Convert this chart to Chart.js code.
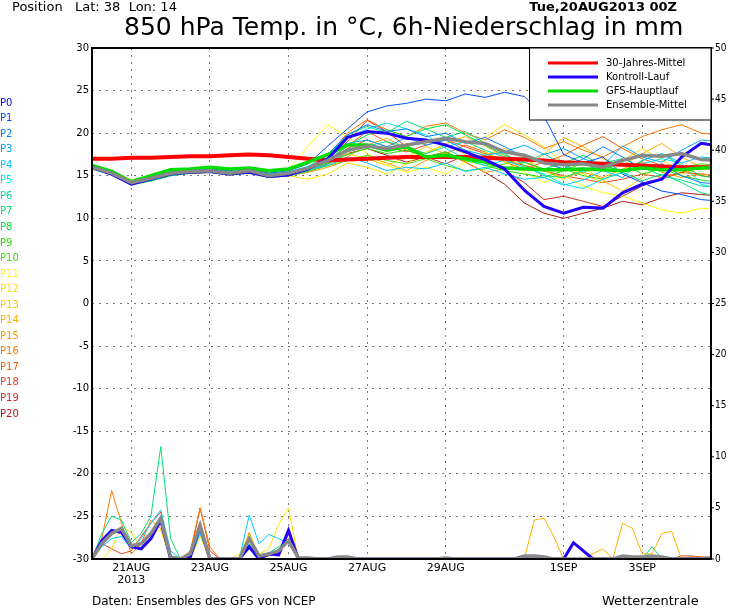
<!DOCTYPE html>
<html>
<head>
<meta charset="utf-8">
<script src="https://cdn.jsdelivr.net/npm/chart.js@4/dist/chart.umd.min.js"></script>
<style>
  body { margin: 0; background: #fff; }
  #wrap { width: 730px; height: 609px; }
</style>
</head>
<body>
<div id="wrap"><canvas id="ens"></canvas></div>
<script>
// hours since 20AUG2013 00Z
const hours12 = [0,12,24,36,48,60,72,84,96,108,120,132,144,156,168,180,192,204,216,228,240,252,264,276,288,300,312,324,336,348,360,372,384];
const hours6 = [0,6,12,18,24,30,36,42,48,54,60,66,72,78,84,90,96,102,108,114,120,126,132,138,144,150,156,162,168,174,180,186,192,198,204,210,216,222,228,234,240,246,252,258,264,270,276,282,288,294,300,306,312,318,324,330,336,342,348,354,360,366,372,378,384];

const dateTicks = [24, 72, 120, 168, 216, 288, 336];
const dateLabels = ['21AUG', '23AUG', '25AUG', '27AUG', '29AUG', '1SEP', '3SEP'];
const precipTicks = [0, 5, 10, 15, 20, 25, 30, 35, 40, 45, 50];

const climate = [17.0,17.0,17.1,17.1,17.2,17.3,17.3,17.4,17.5,17.4,17.2,17.0,16.8,16.9,17.0,17.1,17.2,17.2,17.2,17.2,17.1,17.0,16.9,16.8,16.6,16.5,16.4,16.3,16.2,16.1,16.0,16.0,16.0];
const control = [16.0,15.2,14.0,14.6,15.2,15.4,15.5,15.2,15.4,14.9,15.1,15.8,17.0,19.5,20.2,20.0,19.4,19.2,18.6,17.8,16.9,15.8,13.3,11.4,10.6,11.3,11.2,13.0,14.0,14.6,17.2,18.8,18.5];
const gfsMain = [16.2,15.5,14.3,15.0,15.7,15.8,16.0,15.8,15.9,15.6,15.8,16.6,17.5,18.6,18.6,18.0,18.4,17.2,17.4,17.0,16.6,15.9,15.8,15.7,15.7,15.8,15.7,15.6,15.9,15.7,15.7,15.9,16.0];
const ensMean = [16.0,15.3,14.2,14.7,15.3,15.5,15.6,15.3,15.6,15.0,15.3,15.9,16.8,18.0,18.5,18.2,18.6,19.0,19.4,19.0,18.8,17.8,17.4,16.5,16.3,16.4,16.0,16.8,17.4,17.3,17.6,16.9,16.8];

const members = [
  [16.3,15.5,14.4,14.9,15.6,15.7,15.8,15.6,15.9,15.3,15.6,16.4,18.5,20.5,22.5,23.2,23.5,24.0,23.8,24.6,24.2,24.8,24.3,22.0,17.5,16.5,17.2,15.2,14.2,13.2,12.8,12.2,12.0],
  [15.8,15.1,14.0,14.5,15.1,15.4,15.5,15.2,15.4,14.9,15.1,15.6,17.5,19.8,21.0,20.2,20.5,19.6,20.0,18.8,19.5,18.4,17.2,16.5,15.8,17.0,18.4,17.2,15.8,16.4,15.0,14.2,14.0],
  [16.1,15.4,14.3,14.7,15.4,15.6,15.7,15.4,15.7,15.1,15.4,16.0,17.0,18.8,19.2,18.4,19.5,18.6,19.2,18.0,17.4,17.8,18.6,17.5,18.2,17.0,16.2,18.5,17.2,16.6,18.0,19.2,19.0],
  [15.9,15.2,14.1,14.6,15.2,15.4,15.5,15.2,15.5,14.9,15.2,15.7,16.2,17.2,16.5,15.6,16.0,15.8,16.5,15.5,16.0,15.2,14.6,14.8,13.9,14.5,15.6,14.8,16.8,17.6,16.5,17.2,17.0],
  [16.2,15.5,14.4,14.9,15.5,15.7,15.8,15.5,15.8,15.2,15.5,16.1,17.6,19.5,20.5,21.2,20.5,19.8,18.2,17.0,16.2,16.8,16.0,15.2,14.0,13.5,14.6,15.4,16.4,17.0,16.5,14.0,13.5],
  [15.9,15.2,14.1,14.5,15.2,15.5,15.6,15.3,15.6,15.0,15.2,15.7,16.4,17.8,18.5,19.0,18.4,17.6,18.4,19.0,18.0,17.2,16.5,17.6,16.2,15.4,16.5,17.0,16.0,15.0,14.5,13.8,13.6],
  [16.2,15.3,14.0,14.4,15.0,15.3,15.4,15.1,15.4,14.8,15.0,15.6,17.2,19.8,20.8,20.0,21.4,20.5,19.5,20.2,18.8,17.6,16.2,15.0,14.8,15.6,16.4,15.4,14.4,15.2,14.2,13.0,12.5],
  [16.0,15.4,14.3,14.8,15.4,15.6,15.7,15.4,15.7,15.1,15.3,15.9,16.8,18.5,19.8,20.4,19.6,20.5,21.0,19.8,18.6,17.4,16.6,15.8,16.5,17.4,16.2,15.5,16.8,17.6,16.2,15.0,14.6],
  [16.1,15.3,14.2,14.7,15.3,15.5,15.6,15.3,15.6,15.0,15.3,15.9,16.5,17.5,18.2,17.6,18.0,17.2,17.8,16.8,16.2,15.6,15.2,14.8,15.6,16.5,15.8,16.5,15.2,15.8,15.0,14.5,14.2],
  [15.8,15.1,13.9,14.4,15.0,15.3,15.4,15.1,15.3,14.8,15.0,15.5,16.2,16.8,17.4,16.8,16.4,17.0,16.2,15.6,15.8,16.4,17.2,16.6,15.8,15.0,14.6,15.4,16.2,15.6,16.0,16.4,16.2],
  [16.2,15.6,14.5,15.0,15.6,15.8,15.9,15.6,16.0,15.4,15.8,18.5,21.0,19.5,17.6,16.2,15.4,16.0,15.2,16.6,17.8,16.6,15.4,14.2,15.0,13.8,13.0,12.6,11.8,11.0,10.6,11.2,11.0],
  [15.9,15.2,14.1,14.6,15.2,15.4,15.5,15.2,15.4,14.8,15.0,14.6,15.2,16.5,16.0,15.2,16.4,17.8,18.6,17.5,19.5,21.0,19.8,18.4,16.5,15.2,14.2,16.8,18.2,16.8,15.6,16.2,16.0],
  [16.0,15.4,14.3,14.8,15.4,15.6,15.7,15.4,15.7,15.1,15.3,15.9,16.5,17.6,17.0,16.2,17.2,18.4,17.6,16.8,17.4,18.2,17.0,15.6,14.6,16.0,14.4,13.2,14.8,16.4,15.2,16.0,15.8],
  [16.1,15.3,14.2,14.6,15.3,15.5,15.6,15.3,15.6,15.0,15.2,15.6,16.2,17.2,18.6,19.4,18.2,17.6,18.8,19.6,18.5,17.2,16.0,17.5,19.5,18.4,17.0,16.2,17.6,18.8,17.2,16.0,15.8],
  [15.9,15.2,14.1,14.5,15.1,15.3,15.4,15.1,15.4,14.8,15.0,15.4,16.0,16.8,17.2,16.5,15.6,16.8,17.6,16.6,15.4,15.8,16.6,15.6,14.8,15.4,14.8,15.8,16.6,15.4,14.8,15.2,15.0],
  [16.3,15.5,14.3,14.8,15.5,15.7,15.8,15.5,15.8,15.2,15.4,16.0,17.4,20.0,21.6,20.4,19.6,20.8,21.2,20.0,19.2,20.4,19.5,18.2,19.0,18.0,17.2,18.4,19.6,20.4,21.0,20.0,19.8],
  [16.0,15.3,14.2,14.7,15.3,15.5,15.6,15.3,15.5,15.0,15.2,15.8,16.8,18.5,20.2,19.0,18.0,17.2,17.6,18.6,17.8,16.6,15.8,16.6,17.4,18.6,19.6,18.2,17.0,16.2,15.6,15.0,14.8],
  [15.8,15.1,14.0,14.5,15.1,15.4,15.5,15.2,15.4,14.9,15.1,15.6,16.6,18.2,19.2,18.4,17.8,18.6,19.2,18.4,17.6,16.8,16.2,15.6,15.0,14.6,14.2,14.6,15.2,14.8,15.4,15.2,15.0],
  [16.1,15.4,14.3,14.8,15.4,15.6,15.6,15.4,15.7,15.1,15.3,15.9,17.0,19.0,21.5,20.2,18.4,17.2,16.4,17.4,16.8,15.6,14.2,12.2,12.6,12.0,11.4,12.6,13.8,14.6,15.4,16.0,15.8],
  [15.9,15.2,14.0,14.5,15.1,15.3,15.4,15.1,15.4,14.8,15.0,15.5,16.4,17.6,18.2,17.4,16.6,17.2,17.8,16.6,15.4,14.0,11.8,10.6,10.0,10.6,11.2,12.0,11.6,12.4,13.0,12.8,12.6]
];
const memberColors = ['#0000ff','#0050ff','#0080ff','#00a8ff','#00c8ff','#00e8e8','#00e0a0','#00e070','#00e040','#20e000','#40e000','#ffff00','#ffe000','#ffc800','#ffb000','#ff9800','#ff7800','#f06000','#e04820','#d03020','#b01818'];

// 6h precipitation in mm (right axis)
const precipMean = [0,1.5,2.5,3.0,1.3,1.5,2.5,4.0,0.2,0,0.5,3.3,0,0,0,0,2.0,0.3,0.5,0.8,1.8,0.1,0.1,0,0,0.2,0.2,0,0,0,0,0,0,0,0,0,0.1,0,0,0,0,0,0,0,0.3,0.3,0.2,0,0,0,0,0,0,0,0.3,0.2,0.2,0.3,0.2,0,0,0,0,0,0];
const precipControl = [0,1.8,2.8,2.6,1.2,1.0,2.0,3.8,0,0,0.2,3.2,0,0,0,0,1.2,0,0.5,0.4,2.8,0,0,0,0,0,0,0,0,0,0,0,0,0,0,0,0,0,0,0,0,0,0,0,0,0,0,0,0,1.6,0.8,0,0,0,0,0,0,0,0,0,0,0,0,0,0];
const precipP7 = [0,2.5,4.2,3.8,1.6,2.5,4.2,11.0,2.0,0,0.2,2.8,0,0,0,0,1.5,0.4,0.6,1.2,2.0,0,0,0,0,0,0,0,0,0,0,0,0,0,0,0,0,0,0,0,0,0,0,0,0,0,0,0,0,0,0,0,0,0,0,0,0,1.2,0,0,0,0,0,0,0];
const precipP16 = [0,2.0,6.7,3.5,0.5,1.5,3.8,3.0,0.3,0,0.8,5.0,1.2,0,0,0,2.6,0.2,0.3,0.6,2.4,0,0,0,0,0,0,0,0,0,0,0,0,0,0,0,0,0,0,0,0,0,0,0,0,0,0,0,0,0,0,0,0,0,0,0,0,0,0,0,0,0.2,0.2,0,0];
const precipP4 = [0,1.2,2.0,2.2,1.0,2.0,3.5,4.8,0.8,0,0,2.5,0,0,0,0,4.3,1.5,2.4,2.0,1.5,0,0,0,0,0,0,0,0,0,0,0,0,0,0,0,0,0,0,0,0,0,0,0,0,0,0,0,0,0,0,0,0,0,0,0,0,0,0,0,0,0,0,0,0];
const precipP12 = [0,0,1.0,3.2,2.6,1.0,2.6,2.8,0,0,0,2.2,0,0,0,0.5,2.4,0.5,1.0,3.4,5.0,0,0,0,0,0,0,0,0,0,0,0,0,0,0,0,0,0,0,0,0,0,0,0,0,0,0,0,0,0,0,0,0,0,0,0,0,0,0,0,0,0,0,0,0];
const precipP18 = [0,1.5,1.0,0.5,0.8,2.2,3.5,4.6,0,0,0.3,5.0,0.8,0,0,0,1.0,0.2,0.6,0.4,3.0,0,0,0,0,0,0,0,0,0,0,0,0,0,0,0,0,0,0,0,0,0,0,0,0,0,0,0,0,0,0,0,0,0,0,0,0,0,0,0,0.3,0.3,0.2,0.2,0];
const precipP14 = [0,0,0,0,0,0,0,0,0,0,0,0,0,0,0,0,0,0,0,0,0,0,0,0,0,0,0,0,0,0,0,0,0,0,0,0,0,0,0,0,0,0,0,0,0,3.8,4.0,2.2,0,0,0,0.5,1.0,0,3.5,3.0,0.5,0.5,2.5,2.7,0,0,0,0,0];

const toXY = (xs, ys) => ys.map((y, i) => ({ x: xs[i], y }));
const datasets = [];

members.forEach((m, i) => datasets.push({
  data: toXY(hours12, m), borderColor: memberColors[i + 1], borderWidth: 1, yAxisID: 'y', order: 10
}));
[[precipP4, 4], [precipP7, 7], [precipP12, 12], [precipP14, 14], [precipP16, 16], [precipP18, 18]].forEach(([p, c]) => datasets.push({
  data: toXY(hours6, p), borderColor: memberColors[c], borderWidth: 1, yAxisID: 'y2', order: 9
}));
datasets.push({ data: toXY(hours12, climate), borderColor: '#ff0000', borderWidth: 4, yAxisID: 'y', order: 4 });
datasets.push({ data: toXY(hours12, gfsMain), borderColor: '#00dd00', borderWidth: 3.5, yAxisID: 'y', order: 3 });
datasets.push({ data: toXY(hours12, control), borderColor: '#2200ff', borderWidth: 3, yAxisID: 'y', order: 2 });
datasets.push({ data: toXY(hours6, precipControl), borderColor: '#2200ff', borderWidth: 3, yAxisID: 'y2', order: 2 });
datasets.push({ data: toXY(hours12, ensMean), borderColor: '#888888', borderWidth: 3.5, yAxisID: 'y', order: 1 });
datasets.push({ data: toXY(hours6, precipMean), borderColor: '#888888', borderWidth: 3.5, yAxisID: 'y2', order: 1 });

const legendItems = [['30-Jahres-Mittel', '#ff0000'], ['Kontroll-Lauf', '#2200ff'], ['GFS-Hauptlauf', '#00dd00'], ['Ensemble-Mittel', '#888888']];

const decor = {
  id: 'decor',
  afterDraw(chart) {
    const { ctx, chartArea: a } = chart;
    ctx.save();
    ctx.strokeStyle = '#000';
    ctx.lineWidth = 2;
    ctx.strokeRect(a.left, a.top, a.right - a.left, a.bottom - a.top);
    // right axis labels and ticks
    ctx.font = '10px "DejaVu Sans Condensed", "DejaVu Sans"';
    ctx.fillStyle = '#000';
    ctx.textBaseline = 'middle';
    ctx.lineWidth = 1;
    precipTicks.forEach(v => {
      const y = chart.scales.y2.getPixelForValue(v);
      ctx.beginPath(); ctx.moveTo(a.right, y); ctx.lineTo(a.right + 3, y); ctx.stroke();
      ctx.fillText(String(v), a.right + 4, y);
    });
    // legend box
    ctx.fillStyle = '#fff';
    ctx.fillRect(529, a.top, a.right - 529, 72);
    ctx.strokeRect(529.5, a.top, a.right - 529.5, 72);
    ctx.font = '10px "DejaVu Sans"';
    legendItems.forEach(([t, c], i) => {
      const y = a.top + 15 + i * 14;
      ctx.strokeStyle = c; ctx.lineWidth = 3;
      ctx.beginPath(); ctx.moveTo(548, y); ctx.lineTo(598, y); ctx.stroke();
      ctx.fillStyle = '#000'; ctx.fillText(t, 606, y);
    });
    // member labels
    memberColors.forEach((c, i) => {
      ctx.fillStyle = c;
      ctx.fillText('P' + i, 0, 103 + i * 15.55);
    });
    // titles
    ctx.fillStyle = '#000';
    ctx.font = '13px "DejaVu Sans"';
    ctx.fillText('Position   Lat: 38  Lon: 14', 12, 8);
    ctx.font = 'bold 13px "DejaVu Sans"';
    ctx.textAlign = 'right';
    ctx.fillText('Tue,20AUG2013 00Z', 677, 8);
    ctx.textAlign = 'left';
    ctx.font = '25px "DejaVu Sans"';
    ctx.fillText('850 hPa Temp. in \u00b0C, 6h-Niederschlag in mm', 124, 28);
    ctx.font = '12px "DejaVu Sans"';
    ctx.fillText('Daten: Ensembles des GFS von NCEP', 92, 602);
    ctx.font = '13px "DejaVu Sans"';
    ctx.fillText('Wetterzentrale', 602, 602);
    ctx.font = '11px "DejaVu Sans"';
    ctx.textAlign = 'center';
    ctx.fillText('2013', chart.scales.x.getPixelForValue(24), 580);
    ctx.restore();
  }
};

new Chart(document.getElementById('ens'), {
  type: 'line',
  data: { datasets },
  plugins: [decor],
  options: {
    responsive: true,
    maintainAspectRatio: false,
    animation: false,
    layout: { padding: { top: 48, left: 0, right: 0, bottom: 0 } },
    elements: { point: { radius: 0 }, line: { tension: 0 } },
    plugins: { legend: { display: false }, tooltip: { enabled: false } },
    scales: {
      x: {
        type: 'linear', min: 0, max: 378,
        afterBuildTicks: s => { s.ticks = dateTicks.map(v => ({ value: v })); },
        afterFit: s => { s.height = 50; },
        ticks: { callback: v => dateLabels[dateTicks.indexOf(v)], color: '#000', font: { family: 'DejaVu Sans', size: 11 }, maxRotation: 0, autoSkip: false },
        grid: { color: '#777', drawTicks: false },
        border: { display: false, dash: [2, 5] }
      },
      y: {
        position: 'left', min: -30, max: 30,
        afterFit: s => { s.width = 92; },
        ticks: { stepSize: 5, color: '#000', font: { family: 'DejaVu Sans', size: 10 } },
        grid: { color: '#777', drawTicks: false },
        border: { display: false, dash: [2, 5] }
      },
      y2: {
        position: 'right', min: 0, max: 50,
        afterFit: s => { s.width = 19; },
        ticks: { display: false, stepSize: 5 },
        grid: { display: false },
        border: { display: false }
      }
    }
  }
});
</script>
</body>
</html>
